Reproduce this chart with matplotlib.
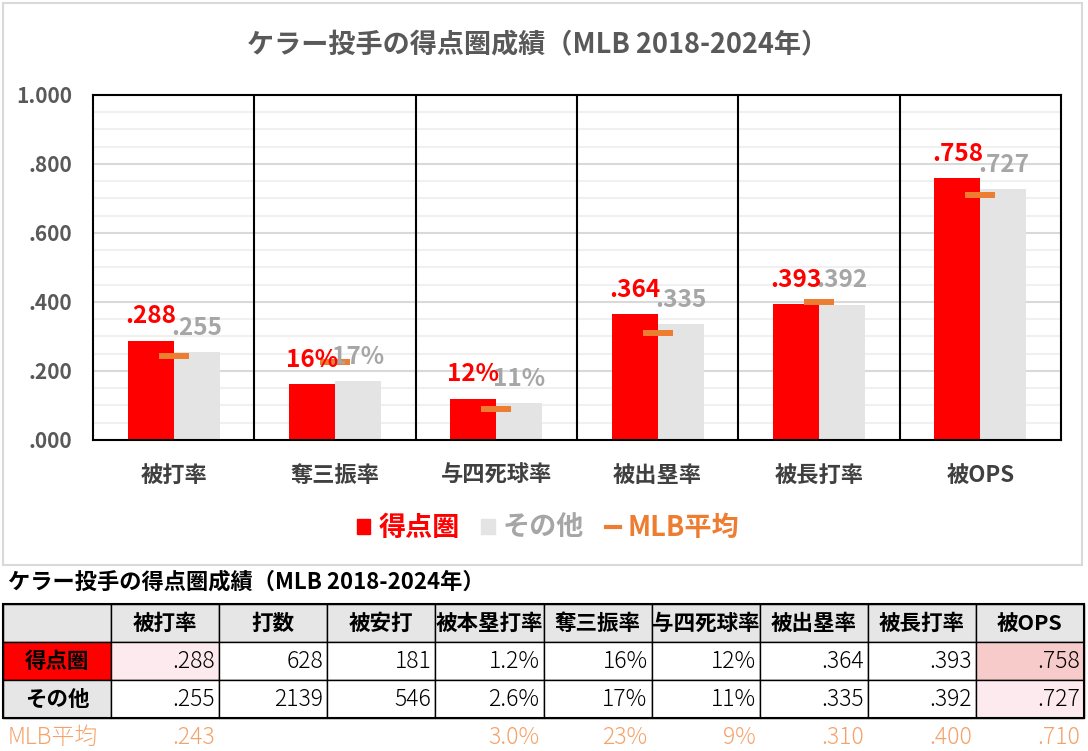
import numpy as np
import matplotlib
matplotlib.use('Agg')
import matplotlib.pyplot as plt
from matplotlib.patches import Patch, Rectangle
from matplotlib.lines import Line2D

plt.rcParams['font.family'] = ['Noto Sans CJK JP', 'DejaVu Sans']

# ---- data ----
categories = ['被打率', '奪三振率', '与四死球率', '被出塁率', '被長打率', '被OPS']
risp = [0.288, 0.161, 0.120, 0.364, 0.393, 0.758]
other = [0.255, 0.171, 0.107, 0.335, 0.392, 0.727]
mlb_avg = [0.243, 0.226, 0.090, 0.310, 0.400, 0.710]
risp_labels = ['.288', '16%', '12%', '.364', '.393', '.758']
other_labels = ['.255', '17%', '11%', '.335', '.392', '.727']
yticks = [0, 0.2, 0.4, 0.6, 0.8, 1.0]
ytick_labels = ['.000', '.200', '.400', '.600', '.800', '1.000']

title = 'ケラー投手の得点圏成績（MLB 2018-2024年）'

tbl_header = ['', '被打率', '打数', '被安打', '被本塁打率', '奪三振率',
              '与四死球率', '被出塁率', '被長打率', '被OPS']
tbl_risp = ['得点圏', '.288', '628', '181', '1.2%', '16%', '12%', '.364', '.393', '.758']
tbl_other = ['その他', '.255', '2139', '546', '2.6%', '17%', '11%', '.335', '.392', '.727']
tbl_mlb = ['MLB平均', '.243', '', '', '3.0%', '23%', '9%', '.310', '.400', '.710']
# conditional-format shading (row, col) -> colour
tbl_shade = {(1, 1): '#fdeaee', (1, 9): '#f8cbcb', (2, 9): '#fdeaee'}

RED = '#ff0000'
GRAY = '#e4e4e4'
GRAY_TXT = '#a6a6a6'
ORANGE = '#ed7d31'
MLB_TXT = '#f5a26a'

W, H = 1088, 751
fig = plt.figure(figsize=(W / 100, H / 100), dpi=100)

# overlay axes in pixel coords for box and table
bg = fig.add_axes([0, 0, 1, 1])
bg.set_xlim(0, W)
bg.set_ylim(H, 0)
bg.axis('off')
bg.add_patch(Rectangle((3, 3), 1079, 562, fill=False, ec='#d9d9d9', lw=1.5))

# ---- chart ----
ax = fig.add_axes([93 / W, 1 - 440 / H, 968 / W, 345 / H])
x = np.arange(len(categories))
bw = 0.285
ax.bar(x - bw, risp, bw, align='edge', color=RED, zorder=3)
ax.bar(x, other, bw, align='edge', color=GRAY, zorder=3)
ax.hlines(mlb_avg, x - 0.093, x + 0.093, color=ORANGE, lw=4.3, zorder=4)

for i in range(len(categories)):
    ax.annotate(other_labels[i], (x[i] + bw / 2, other[i]), xytext=(0, 9),
                textcoords='offset points', ha='center', va='bottom',
                color=GRAY_TXT, fontsize=17.5, fontweight='bold', zorder=5)
    ax.annotate(risp_labels[i], (x[i] - bw / 2, risp[i]), xytext=(0, 9),
                textcoords='offset points', ha='center', va='bottom',
                color=RED, fontsize=17.5, fontweight='bold', zorder=6)

ax.set_xlim(-0.5, len(categories) - 0.5)
ax.set_ylim(0, 1.0)
ax.set_yticks(yticks)
ax.set_yticklabels(ytick_labels, fontsize=15, fontweight='bold', color='#595959')
ax.set_yticks(np.arange(0, 1.0, 0.05), minor=True)
ax.grid(axis='y', which='minor', color='#f0f0f0', lw=1.5, zorder=0)
ax.grid(axis='y', which='major', color='#d9d9d9', lw=1.5, zorder=1)
ax.tick_params(axis='y', which='both', length=0, pad=15)
ax.set_xticks(x)
ax.set_xticklabels(categories, fontsize=16, fontweight='bold', color='#404040')
ax.tick_params(axis='x', length=0, pad=17)
for b in np.arange(0.5, len(categories) - 0.5):
    ax.axvline(b, color='black', lw=1.5, zorder=2)
for s in ax.spines.values():
    s.set_color('black')
    s.set_linewidth(1.5)
    s.set_zorder(7)

fig.text(538 / W, 1 - 45 / H, title, ha='center', va='center',
         fontsize=19.5, fontweight='bold', color='#595959')

handles = [Patch(color=RED), Patch(color=GRAY),
           Line2D([0], [0], color=ORANGE, lw=3)]
fig.legend(handles, ['得点圏', 'その他', 'MLB平均'], loc='center',
           bbox_to_anchor=(548 / W, 1 - 528 / H), ncol=3, frameon=False,
           prop={'size': 19.5, 'weight': 'bold'},
           labelcolor=[RED, GRAY_TXT, ORANGE],
           handlelength=0.5, handleheight=0.5, handletextpad=0.3,
           columnspacing=0.8)

# ---- table ----
bg.text(8, 582, title, ha='left', va='center', fontsize=16,
        fontweight='bold', color='black')
x0, cw = 3, 108.1
row_top = [604, 642, 680]
row_h = 38
rows = [tbl_header, tbl_risp, tbl_other]
for r, row in enumerate(rows):
    for c, val in enumerate(row):
        cx = x0 + c * cw
        if r == 0:
            fc = '#e7e6e6'
        elif c == 0:
            fc = RED if r == 1 else '#e7e6e6'
        else:
            fc = tbl_shade.get((r, c), 'white')
        bg.add_patch(Rectangle((cx, row_top[r]), cw, row_h, fc=fc,
                               ec='black', lw=1.0))
        yc = row_top[r] + row_h / 2
        if r == 0 or c == 0:
            bg.text(cx + cw / 2, yc, val, ha='center', va='center',
                    fontsize=15.5, fontweight='bold', color='black')
        else:
            bg.text(cx + cw - 4, yc, val, ha='right', va='center',
                    fontsize=16.5, fontweight='light', color='black')
bg.add_patch(Rectangle((x0, 604), cw * 10, 114, fill=False, ec='black', lw=1.5))

for c, val in enumerate(tbl_mlb):
    cx = x0 + c * cw
    if c == 0:
        bg.text(cx + 5, 737, val, ha='left', va='center', fontsize=16.5,
                fontweight='light', color=MLB_TXT)
    else:
        bg.text(cx + cw - 4, 737, val, ha='right', va='center', fontsize=16.5,
                fontweight='light', color=MLB_TXT)

fig.savefig('out.png', dpi=100)
